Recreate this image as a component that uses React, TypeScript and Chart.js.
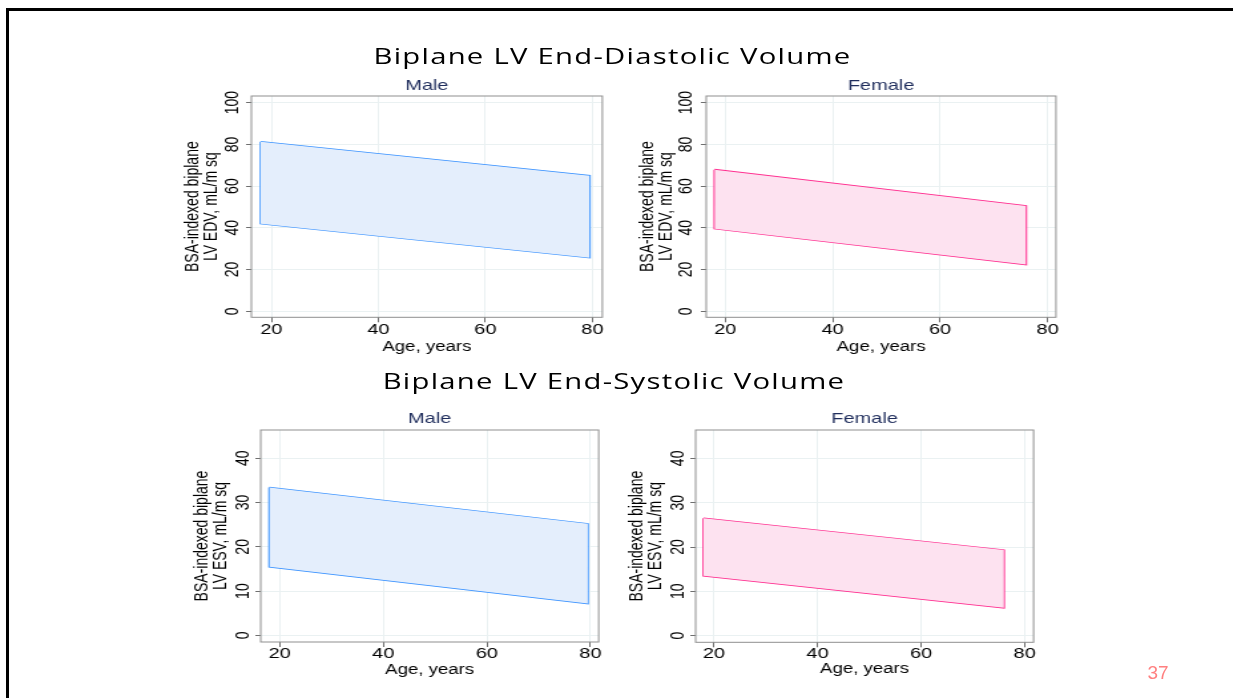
import React, { useEffect, useRef } from "react";
import { Chart, registerables } from "chart.js";

Chart.register(...registerables);

// ---------------- data ----------------
const edvMaleAge = [18, 79.5];
const edvMaleUpper = [81.3, 65.0];
const edvMaleLower = [42.0, 25.7];

const edvFemaleAge = [18, 76];
const edvFemaleUpper = [67.9, 50.5];
const edvFemaleLower = [39.6, 22.4];

const esvMaleAge = [18, 79.5];
const esvMaleUpper = [33.4, 25.2];
const esvMaleLower = [15.5, 7.2];

const esvFemaleAge = [18, 76];
const esvFemaleUpper = [26.5, 19.3];
const esvFemaleLower = [13.5, 6.3];

const ageTicks = [20, 40, 60, 80];
const edvTicks = [0, 20, 40, 60, 80, 100];
const esvTicks = [0, 10, 20, 30, 40];

const sexLabels = ["Male", "Female"];
const edvAxisTitle = ["BSA-indexed biplane", "LV EDV, mL/m sq"];
const esvAxisTitle = ["BSA-indexed biplane", "LV ESV, mL/m sq"];
const xAxisTitle = "Age, years";
const chartTitles = ["Biplane LV End-Diastolic Volume", "Biplane LV End-Systolic Volume"];
const pageNumber = "37";

// ---------------- styling ----------------
const S = 1.33; // horizontal stretch of the picture
const FONT = "'Liberation Sans', Arial, sans-serif";
const MALE_LINE = "#3d94ff";
const MALE_FILL = "#e4eefc";
const FEMALE_LINE = "#ff2f90";
const FEMALE_FILL = "#fde2f0";
const NAVY = "#1f2d5c";
const GRID = "#eaf1f2";
const TICK = "#6f6f6f";
const BOX = "#8f8f8f";

const WY = 52;
const HT = 20;
const HX = 40;

const boxPlugin = {
  id: "plotBox",
  afterDatasetsDraw(chart: any) {
    const { ctx, chartArea } = chart;
    const { left, top, right, bottom } = chartArea;
    ctx.save();
    ctx.strokeStyle = BOX;
    ctx.lineWidth = 1;
    ctx.strokeRect(left, top, right - left, bottom - top);
    ctx.restore();
  },
};

type PanelSpec = {
  L: number; R: number; T: number; B: number;
  xMin: number; xMax: number; yMin: number; yMax: number;
  yTickPad: number; xTickPad: number; xTitlePad: number; topPad: number;
  age: number[]; upper: number[]; lower: number[]; yTicks: number[];
  yTitle: string[]; sex: string; line: string; fill: string;
};

const panels: PanelSpec[] = [
  {
    L: 251.7, R: 602.7, T: 95.7, B: 317, xMin: 16.26, xMax: 81.87, yMin: -2.9, yMax: 103.2,
    yTickPad: -1.6, xTickPad: 0.5, xTitlePad: 1.9, topPad: 1.3,
    age: edvMaleAge, upper: edvMaleUpper, lower: edvMaleLower, yTicks: edvTicks,
    yTitle: edvAxisTitle, sex: sexLabels[0], line: MALE_LINE, fill: MALE_FILL,
  },
  {
    L: 706, R: 1055.7, T: 95.7, B: 317, xMin: 16.46, xMax: 81.56, yMin: -2.9, yMax: 103.2,
    yTickPad: -1.2, xTickPad: 0.5, xTitlePad: 1.9, topPad: 1.3,
    age: edvFemaleAge, upper: edvFemaleUpper, lower: edvFemaleLower, yTicks: edvTicks,
    yTitle: edvAxisTitle, sex: sexLabels[1], line: FEMALE_LINE, fill: FEMALE_FILL,
  },
  {
    L: 260.3, R: 598.3, T: 430, B: 642, xMin: 16.33, xMax: 81.6, yMin: -1.5, yMax: 46.4,
    yTickPad: 1.0, xTickPad: -0.5, xTitlePad: 3.6, topPad: 0.3,
    age: esvMaleAge, upper: esvMaleUpper, lower: esvMaleLower, yTicks: esvTicks,
    yTitle: esvAxisTitle, sex: sexLabels[0], line: MALE_LINE, fill: MALE_FILL,
  },
  {
    L: 696, R: 1034, T: 430, B: 642.3, xMin: 16.47, xMax: 81.72, yMin: -1.5, yMax: 46.4,
    yTickPad: 1.5, xTickPad: -0.8, xTitlePad: 4.6, topPad: 0,
    age: esvFemaleAge, upper: esvFemaleUpper, lower: esvFemaleLower, yTicks: esvTicks,
    yTitle: esvAxisTitle, sex: sexLabels[1], line: FEMALE_LINE, fill: FEMALE_FILL,
  },
];

function Panel({ p }: { p: PanelSpec }) {
  const ref = useRef<HTMLCanvasElement>(null);
  const Lu = p.L / S;
  const Ru = p.R / S;
  const cx = Lu - WY;
  const cw = Math.ceil(Ru - cx + 4);
  const pr = cw - (Ru - cx);
  const cy = p.T - HT;
  const hNeeded = p.B - p.T + HT + HX;
  const ch = Math.ceil(hNeeded);
  const pb = ch - hNeeded;

  useEffect(() => {
    if (!ref.current) return;
    const n = p.age.length - 1;
    const upperPts = p.age.map((x, i) => ({ x, y: p.upper[i] }));
    const lowerPts = p.age.map((x, i) => ({ x, y: p.lower[i] }));
    const outline = [
      ...upperPts,
      { x: p.age[n], y: p.lower[n] },
      ...lowerPts.slice().reverse().slice(1),
      { x: p.age[0], y: p.upper[0] },
    ];
    const chart = new Chart(ref.current, {
      type: "line",
      data: {
        datasets: [
          { data: upperPts, borderWidth: 0, borderColor: "rgba(0,0,0,0)", backgroundColor: p.fill, pointRadius: 0, fill: "+1" },
          { data: lowerPts, borderWidth: 0, borderColor: "rgba(0,0,0,0)", pointRadius: 0, fill: false },
          { data: outline, borderWidth: 1.6, borderColor: p.line, pointRadius: 0, fill: false, tension: 0 },
        ],
      },
      options: {
        animation: false,
        responsive: false,
        events: [],
        layout: { padding: { left: 0, right: pr, top: 0, bottom: pb } },
        plugins: { legend: { display: false }, tooltip: { enabled: false }, title: { display: false } },
        scales: {
          x: {
            type: "linear",
            position: "bottom",
            min: p.xMin,
            max: p.xMax,
            afterBuildTicks: (s: any) => { s.ticks = ageTicks.map((v) => ({ value: v })); },
            afterFit: (s: any) => { s.height = HX; },
            ticks: {
              font: { family: FONT, size: 15, lineHeight: 1 },
              color: "#000",
              padding: p.xTickPad,
              minRotation: 0,
              maxRotation: 0,
              autoSkip: false,
              callback: (v: any) => String(v),
            },
            grid: { color: GRID, lineWidth: 1, drawTicks: true, tickLength: 5, tickColor: TICK, tickWidth: 1 },
            border: { display: false },
            title: {
              display: true,
              text: xAxisTitle,
              color: "#000",
              font: { family: FONT, size: 14, lineHeight: 1.2 },
              padding: { top: 0, bottom: p.xTitlePad },
            },
          },
          x2: {
            type: "linear",
            position: "top",
            min: p.xMin,
            max: p.xMax,
            afterFit: (s: any) => { s.height = HT; },
            ticks: { display: false },
            grid: { display: false },
            border: { display: false },
            title: {
              display: true,
              text: p.sex,
              color: NAVY,
              font: { family: FONT, size: 15, lineHeight: 1.2 },
              padding: { top: p.topPad, bottom: 0 },
            },
          },
          y: {
            type: "linear",
            position: "left",
            min: p.yMin,
            max: p.yMax,
            afterBuildTicks: (s: any) => { s.ticks = p.yTicks.map((v) => ({ value: v })); },
            afterFit: (s: any) => { s.width = WY; },
            ticks: {
              font: { family: FONT, size: 14, lineHeight: 1 },
              color: "#000",
              padding: p.yTickPad,
              minRotation: 90,
              maxRotation: 90,
              crossAlign: "center",
              autoSkip: false,
              callback: (v: any) => String(v),
            },
            grid: { color: GRID, lineWidth: 1, drawTicks: true, tickLength: 4, tickColor: TICK, tickWidth: 1 },
            border: { display: false },
            title: {
              display: true,
              text: p.yTitle,
              color: "#000",
              font: { family: FONT, size: 14, lineHeight: 1 },
              padding: { top: 1.6, bottom: 0 },
            },
          },
        },
      } as any,
      plugins: [boxPlugin],
    });
    return () => chart.destroy();
  }, []);

  return (
    <canvas
      ref={ref}
      width={cw}
      height={ch}
      style={{ position: "absolute", left: cx, top: cy, width: cw, height: ch, display: "block" }}
    />
  );
}

export default function App() {
  const titleStyle = (centerX: number, top: number): React.CSSProperties => ({
    position: "absolute",
    left: centerX / S - 300,
    width: 600,
    top,
    textAlign: "center",
    fontFamily: "'Open Sans', sans-serif",
    fontSize: 22,
    letterSpacing: "0.95px",
    lineHeight: "22px",
    color: "#000",
    whiteSpace: "nowrap",
  });
  return (
    <div style={{ position: "absolute", left: 0, top: 0, width: 1233, height: 698, overflow: "hidden", background: "#fff" }}>
      <div
        style={{
          position: "absolute",
          left: 6,
          top: 8,
          width: 1400,
          height: 800,
          borderLeft: "3px solid #000",
          borderTop: "3px solid #000",
        }}
      />
      <div
        style={{
          position: "absolute",
          left: 0,
          top: 0,
          width: 1233 / S,
          height: 698,
          transform: `scaleX(${S})`,
          transformOrigin: "0 0",
        }}
      >
        <div style={titleStyle(612.5, 43.5)}>{chartTitles[0]}</div>
        <div style={titleStyle(614, 368.5)}>{chartTitles[1]}</div>
        {panels.map((p, i) => (
          <Panel key={i} p={p} />
        ))}
      </div>
      <div
        style={{
          position: "absolute",
          left: 1128,
          width: 60,
          top: 663.2,
          textAlign: "center",
          fontFamily: FONT,
          fontSize: 19,
          lineHeight: "19px",
          color: "#ff8080",
        }}
      >
        {pageNumber}
      </div>
    </div>
  );
}
